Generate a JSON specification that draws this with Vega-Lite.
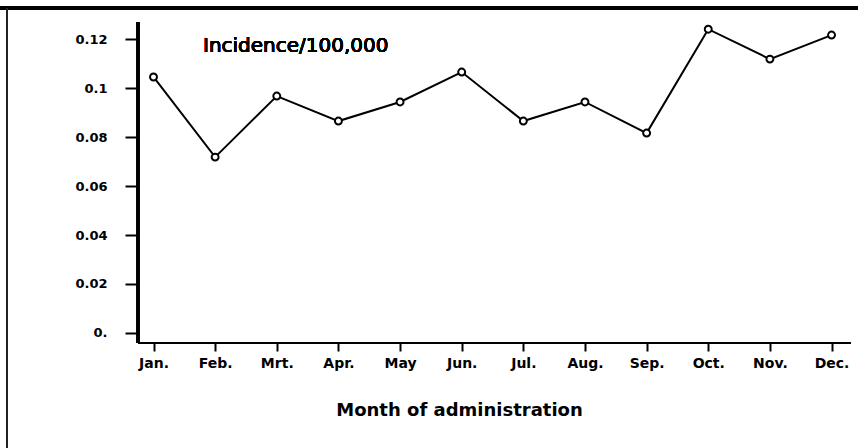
{
  "$schema": "https://vega.github.io/schema/vega-lite/v6.json",
  "width": 858,
  "height": 448,
  "autosize": "none",
  "padding": 0,
  "background": "white",
  "config": {
    "view": {"stroke": null},
    "font": "DejaVu Sans",
    "axis": {"grid": false, "domain": false, "tickColor": "black", "labelColor": "black", "titleColor": "black"}
  },
  "datasets": {
    "series": [
      {"m": 1, "month": "Jan.", "v": 0.1045},
      {"m": 2, "month": "Feb.", "v": 0.0718},
      {"m": 3, "month": "Mrt.", "v": 0.0967},
      {"m": 4, "month": "Apr.", "v": 0.0865},
      {"m": 5, "month": "May", "v": 0.0943},
      {"m": 6, "month": "Jun.", "v": 0.1065},
      {"m": 7, "month": "Jul.", "v": 0.0865},
      {"m": 8, "month": "Aug.", "v": 0.0943},
      {"m": 9, "month": "Sep.", "v": 0.0816},
      {"m": 10, "month": "Oct.", "v": 0.124},
      {"m": 11, "month": "Nov.", "v": 0.1118},
      {"m": 12, "month": "Dec.", "v": 0.1216}
    ]
  },
  "data": {"name": "series"},
  "layer": [
    {
      "mark": {"type": "rule", "stroke": "black", "strokeWidth": 3},
      "encoding": {
        "x": {"datum": -1.4903, "type": "quantitative", "scale": {"domain": [-1.4903, 12.4294], "zero": false, "nice": false},
          "axis": {"orient": "bottom", "offset": -105, "values": [1,2,3,4,5,6,7,8,9,10,11,12], "tickSize": 8, "tickWidth": 2, "labelPadding": 5, "labelFontSize": 14, "labelFontWeight": "bold",
            "labelExpr": "['Jan.','Feb.','Mrt.','Apr.','May','Jun.','Jul.','Aug.','Sep.','Oct.','Nov.','Dec.'][datum.value-1]",
            "title": "Month of administration", "titleFontSize": 18, "titleFontWeight": "bold", "titleX": 459, "titleY": 72, "titleBaseline": "alphabetic", "titleAnchor": "middle", "titleAlign": "center"}},
        "x2": {"datum": 12.4294},
        "y": {"datum": 0.13265, "type": "quantitative", "scale": {"domain": [-0.04694, 0.13592], "zero": false, "nice": false},
          "axis": {"orient": "left", "offset": -138, "values": [0,0.01,0.02,0.03,0.04,0.05,0.06,0.07,0.08,0.09,0.1,0.11,0.12], "tickSize": 13, "tickWidth": 2, "labelPadding": 18, "labelFontSize": 13, "labelFontWeight": "bold",
            "labelExpr": "datum.value < 0.001 ? '0.' : (round(datum.value*100) % 2 == 0 ? format(datum.value, '.2~f') : '')",
            "title": null}}
      }
    },
    {
      "mark": {"type": "rule", "stroke": "#222", "strokeWidth": 2},
      "encoding": {
        "x": {"datum": -1.3767, "type": "quantitative"},
        "y": {"datum": 0.13265, "type": "quantitative"},
        "y2": {"datum": -0.04694}
      }
    },
    {
      "mark": {"type": "rule", "stroke": "black", "strokeWidth": 2.5},
      "encoding": {
        "x": {"datum": 0.7485, "type": "quantitative"},
        "y": {"datum": 0.12694, "type": "quantitative"},
        "y2": {"datum": -0.00408}
      }
    },
    {
      "mark": {"type": "rule", "stroke": "black", "strokeWidth": 2},
      "encoding": {
        "x": {"datum": 0.7485, "type": "quantitative"},
        "x2": {"datum": 12.3158},
        "y": {"datum": -0.00408, "type": "quantitative"}
      }
    },
    {
      "mark": {"type": "text", "text": "Incidence/100,000", "align": "left", "baseline": "alphabetic", "fontSize": 20, "color": "black"},
      "encoding": {
        "x": {"datum": 1.803, "type": "quantitative"},
        "y": {"datum": 0.1148, "type": "quantitative"}
      }
    },
    {
      "mark": {"type": "line", "stroke": "black", "strokeWidth": 2},
      "encoding": {
        "x": {"field": "m", "type": "quantitative"},
        "y": {"field": "v", "type": "quantitative"}
      }
    },
    {
      "mark": {"type": "point", "shape": "circle", "size": 48, "filled": false, "fill": "white", "fillOpacity": 1, "stroke": "black", "strokeWidth": 2, "opacity": 1},
      "encoding": {
        "x": {"field": "m", "type": "quantitative"},
        "y": {"field": "v", "type": "quantitative"}
      }
    }
  ]
}
